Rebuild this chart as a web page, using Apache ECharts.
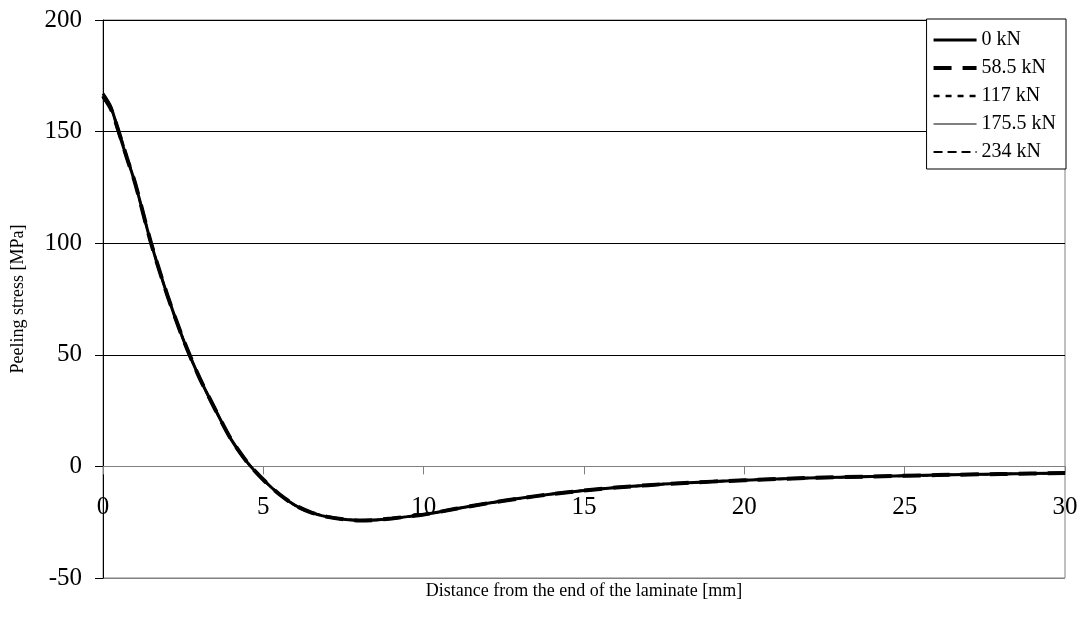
<!DOCTYPE html>
<html>
<head>
<meta charset="utf-8">
<script src="https://cdn.jsdelivr.net/npm/echarts@6/dist/echarts.min.js"></script>
<style>
  html, body { margin: 0; padding: 0; background: #fff; }
  #chart { width: 1081px; height: 630px; }
</style>
</head>
<body>
<div id="chart"></div>
<script>
// Distance from the laminate end [mm]
const distance = [0, 0.25, 0.5, 0.75, 1, 1.5, 2, 2.5, 3, 3.5, 4, 4.5, 5, 5.5, 6, 6.5, 7, 7.5, 8, 8.5, 9, 10, 11, 12, 13, 14, 15, 16, 17, 18, 20, 22, 24, 26, 28, 30];

// Peeling stress [MPa] for each applied load
const stress0 = [167, 161, 149, 138, 127, 100, 77, 57, 40, 25.5, 12, 1.8, -6, -12.5, -17.5, -20.7, -22.6, -23.7, -24.2, -24, -23.3, -21.6, -19, -16.5, -14.3, -12.4, -10.8, -9.5, -8.4, -7.5, -6.2, -5.2, -4.5, -3.9, -3.4, -3.0];
const stress58 = [166, 160, 149.5, 138, 127, 100, 77, 57, 40, 25.5, 12, 1.8, -6, -12.5, -17.5, -20.7, -22.6, -23.7, -24.2, -24, -23.3, -21.6, -19, -16.5, -14.3, -12.4, -10.8, -9.5, -8.4, -7.5, -6.2, -5.2, -4.5, -3.9, -3.4, -3.0];
const stress117 = [165.5, 160.5, 150, 138.5, 127, 100, 77, 57, 40, 25.5, 12, 1.8, -6, -12.5, -17.5, -20.7, -22.6, -23.7, -24.2, -24, -23.3, -21.6, -19, -16.5, -14.3, -12.4, -10.8, -9.5, -8.4, -7.5, -6.2, -5.2, -4.5, -3.9, -3.4, -3.0];
const stress175 = [166.5, 161.5, 149, 138, 127, 100, 77, 57, 40, 25.5, 12, 1.8, -6, -12.5, -17.5, -20.7, -22.6, -23.7, -24.2, -24, -23.3, -21.6, -19, -16.5, -14.3, -12.4, -10.8, -9.5, -8.4, -7.5, -6.2, -5.2, -4.5, -3.9, -3.4, -3.0];
const stress234 = [165, 160, 150.5, 138.5, 127, 100, 77, 57, 40, 25.5, 12, 1.8, -6, -12.5, -17.5, -20.7, -22.6, -23.7, -24.2, -24, -23.3, -21.6, -19, -16.5, -14.3, -12.4, -10.8, -9.5, -8.4, -7.5, -6.2, -5.2, -4.5, -3.9, -3.4, -3.0];

const loadNames = ['0 kN', '58.5 kN', '117 kN', '175.5 kN', '234 kN'];
const loadValues = [stress0, stress58, stress117, stress175, stress234];

// axis ranges
const X_MIN = 0, X_MAX = 30, X_STEP = 5;
const Y_MIN = -50, Y_MAX = 200, Y_STEP = 50;

// line look per load case
const lineLooks = [
  { width: 3, type: 'solid' },
  { width: 4, type: [18, 11] },
  { width: 2.5, type: [6, 6] },
  { width: 1, type: 'solid' },
  { width: 2, type: [9, 5] }
];

const FONT = "'Liberation Serif', 'Times New Roman', serif";
const GRID = { left: 103, right: 16, top: 20, bottom: 52 };
const plotHeight = 630 - GRID.top - GRID.bottom;
// the distance axis sits on the stress = 0 line
const xAxisOffset = -((0 - Y_MIN) / (Y_MAX - Y_MIN)) * plotHeight;

const chart = echarts.init(document.getElementById('chart'), null, { renderer: 'canvas' });

const series = loadNames.map((name, i) => ({
  name: name,
  type: 'line',
  data: distance.map((d, k) => [d, loadValues[i][k]]),
  showSymbol: false,
  symbol: 'none',
  smooth: 0.25,
  lineStyle: { color: '#000', width: lineLooks[i].width, type: lineLooks[i].type },
  itemStyle: { color: '#000' },
  z: 3 + i,
  animation: false
}));

const legendItems = loadNames.map((name, i) => ({
  name: name,
  lineStyle: { color: '#000', width: lineLooks[i].width, type: lineLooks[i].type }
}));

chart.setOption({
  animation: false,
  backgroundColor: '#fff',
  textStyle: { fontFamily: FONT, color: '#000' },
  grid: Object.assign({
    show: true, borderColor: '#808080', borderWidth: 1, backgroundColor: 'transparent',
    containLabel: false, outerBoundsMode: 'none'
  }, GRID),
  legend: {
    orient: 'vertical',
    right: 15, top: 19,
    padding: [11, 10, 7, 5],
    itemWidth: 43, itemHeight: 14, itemGap: 8,
    backgroundColor: '#fff',
    borderColor: '#000', borderWidth: 1,
    itemStyle: { opacity: 0 },
    textStyle: { fontFamily: FONT, fontSize: 20, color: '#000' },
    data: legendItems
  },
  xAxis: {
    type: 'value',
    min: X_MIN, max: X_MAX, interval: X_STEP,
    position: 'bottom',
    offset: xAxisOffset,
    name: 'Distance from the end of the laminate [mm]',
    nameLocation: 'middle',
    nameGap: 116,
    nameTextStyle: { fontFamily: FONT, fontSize: 18, color: '#000' },
    axisLine: { onZero: false, lineStyle: { color: '#808080', width: 1 } },
    axisTick: { show: true, inside: false, length: 8, lineStyle: { color: '#808080' } },
    axisLabel: { fontFamily: FONT, fontSize: 25, color: '#000', margin: 29, showMinLabel: true, showMaxLabel: true },
    splitLine: { show: false }
  },
  yAxis: {
    type: 'value',
    min: Y_MIN, max: Y_MAX, interval: Y_STEP,
    name: 'Peeling stress [MPa]',
    nameLocation: 'middle',
    nameGap: 76,
    nameTextStyle: { fontFamily: FONT, fontSize: 18, color: '#000' },
    axisLine: { show: true, onZero: false, lineStyle: { color: '#000', width: 1 } },
    axisTick: { show: true, inside: false, length: 8, lineStyle: { color: '#000' } },
    axisLabel: { fontFamily: FONT, fontSize: 25, color: '#000', margin: 21 },
    splitLine: {
      show: true,
      lineStyle: { color: ['#808080', '#808080', '#000', '#000', '#000', '#000'], width: 1 }
    }
  },
  series: series
});
</script>
</body>
</html>
